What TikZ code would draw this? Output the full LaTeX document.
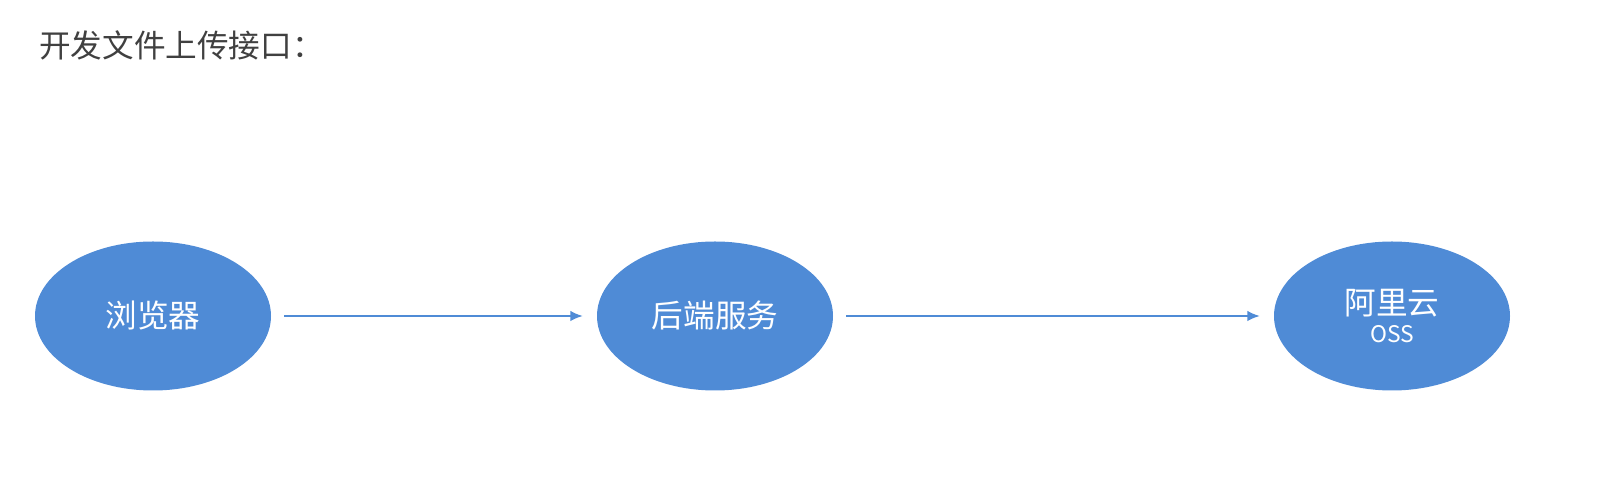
\documentclass[tikz,border=0pt]{standalone}
\usepackage{fontspec}
\setmainfont{Noto Sans CJK SC}
\usetikzlibrary{shapes.geometric,arrows.meta}
\definecolor{nodeblue}{HTML}{4F8BD6}
\definecolor{titlegray}{HTML}{404040}
\tikzset{
  yun/.style={ellipse,fill=nodeblue,draw=none,minimum width=4.72cm,minimum height=2.98cm,
    text=white,font=\fontsize{18pt}{20pt}\selectfont,align=center,inner sep=0pt},
  liu/.style={draw=nodeblue,line width=0.9pt,-{Latex[length=7pt,width=6pt]},shorten <=0.26cm,shorten >=0.28cm}
}
\begin{document}
\begin{tikzpicture}
\useasboundingbox (0,0) rectangle (32.06,9.7);

\node[anchor=west,text=titlegray,font=\fontsize{18pt}{20pt}\selectfont] (title) at (0.66,8.8) {开发文件上传接口：};

\node[yun] (liulanqi) at (3.06,3.38) {浏览器};
\node[yun] (houduan) at (14.30,3.38) {后端服务};
\node[yun] (aliyun) at (27.84,3.38) {阿里云\\[-4pt]{\fontsize{13pt}{15pt}\selectfont OSS}};

\draw[liu] (liulanqi) -- (houduan);
\draw[liu] (houduan) -- (aliyun);
\end{tikzpicture}
\end{document}
